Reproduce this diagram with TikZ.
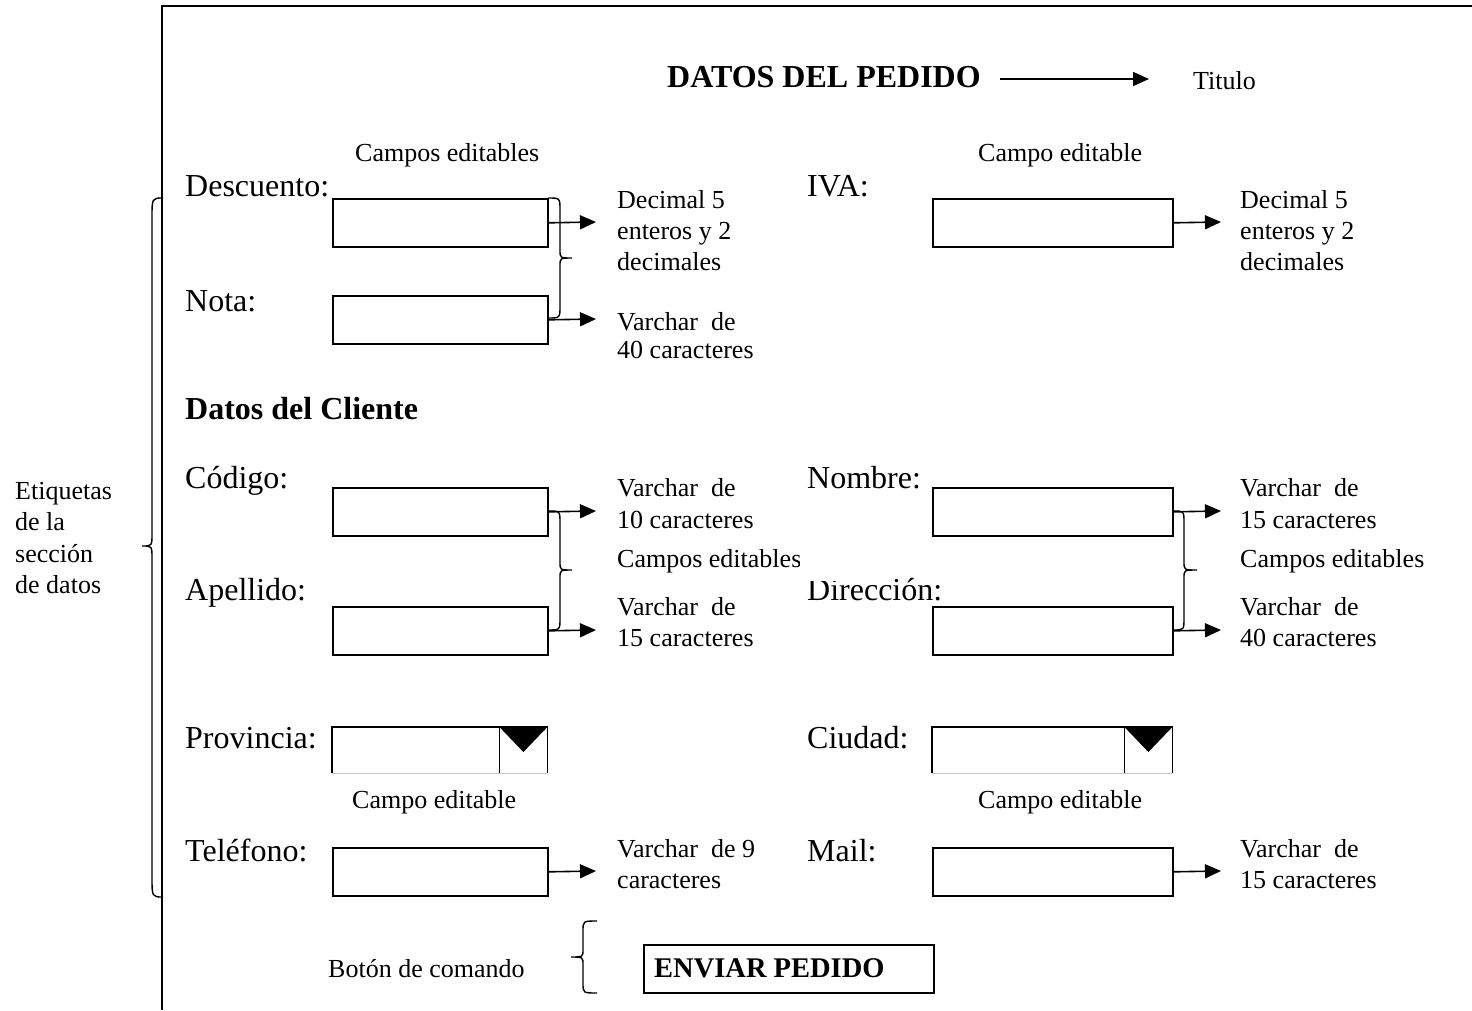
\documentclass[tikz,border=0pt]{standalone}
\usepackage{fontspec}
\setmainfont{Liberation Serif}
\usetikzlibrary{arrows.meta}
\newcommand{\mybrace}[8]{%
  \draw[bracestyle] (#1,#4) .. controls (#2,#4) .. (#2,{#4+#7}) -- (#2,{#5-#8}) .. controls (#2,#5) .. (#3,#5) .. controls (#2,#5) .. (#2,{#5+#8}) -- (#2,{#6-#7}) .. controls (#2,#6) .. (#1,#6);}
\tikzset{
 big/.style={font=\fontsize{32}{38}\selectfont,anchor=base west,inner sep=0pt},
 bigb/.style={font=\fontsize{32}{38}\selectfont\bfseries,anchor=base west,inner sep=0pt},
 small/.style={font=\fontsize{26}{31}\selectfont,anchor=base west,inner sep=0pt},
 lbox/.style={draw,line width=1.6pt,minimum width=215pt,minimum height=48pt,inner sep=0pt,anchor=north west},
 rbox/.style={lbox,minimum width=240pt},
 arr/.style={line width=1.6pt,-{Triangle[length=16pt,width=14pt]}},
 bracestyle/.style={line width=1.4pt},
 ddbox/.style={minimum height=46pt,inner sep=0pt,anchor=north west},
}
\begin{document}
\begin{tikzpicture}[x=1pt,y=-1pt]
\useasboundingbox (0,0) rectangle (1472,1010);
% frame
\draw[line width=2pt] (162,1010) -- (162,6) -- (1472,6);

% title
\node[bigb] (title) at (667,87) {DATOS DEL PEDIDO};
\node[small] (titulo) at (1193,89) {Titulo};
\coordinate (tA) at (1000,79);
\coordinate (tB) at (1149,79);
\draw[arr] (tA) -- (tB);

% row 1
\node[small] (ce1) at (355,161) {Campos editables};
\node[small] (ce2) at (978,161) {Campo editable};
\node[big] (ldesc) at (185,196) {Descuento:};
\node[big] (liva) at (807,196) {IVA:};
\node[lbox] (bdesc) at (332,198) {};
\node[rbox] (biva) at (932,198) {};
\coordinate (adesc) at (596,222);
\coordinate (aiva) at (1221,222);
\draw[arr] (bdesc.east) -- (adesc);
\draw[arr] (biva.east) -- (aiva);
\node[small] (d1a) at (617,208) {Decimal 5};
\node[small] (d1b) at (617,239) {enteros y 2};
\node[small] (d1c) at (617,270) {decimales};
\node[small] (d2a) at (1240,208) {Decimal 5};
\node[small] (d2b) at (1240,239) {enteros y 2};
\node[small] (d2c) at (1240,270) {decimales};

% Nota
\node[big] (lnota) at (185,311) {Nota:};
\node[lbox] (bnota) at (332,295) {};
\coordinate (anota) at (596,319);
\draw[arr] (bnota.east) -- (anota);
\node[small] (n1) at (617,330) {Varchar\ \ de};
\node[small] (n2) at (617,358) {40 caracteres};
\mybrace{548}{560}{572}{198}{258}{318}{12}{8}

% Datos del Cliente
\node[bigb] (dcli) at (185,419) {Datos del Cliente};

% Codigo / Nombre
\node[big] (lcod) at (185,488) {Código:};
\node[big] (lnom) at (807,488) {Nombre:};
\node[lbox] (bcod) at (332,487) {};
\node[rbox] (bnom) at (932,487) {};
\coordinate (acod) at (596,511);
\coordinate (anom) at (1221,511);
\draw[arr] (bcod.east) -- (acod);
\draw[arr] (bnom.east) -- (anom);
\node[small] (c1) at (617,496) {Varchar\ \ de};
\node[small] (c2) at (617,528) {10 caracteres};
\node[small] (c3) at (617,567) {Campos editables};
\node[small] (m1) at (1240,496) {Varchar\ \ de};
\node[small] (m2) at (1240,528) {15 caracteres};
\node[small] (m3) at (1240,567) {Campos editables};

% Apellido / Direccion
\node[big] (lape) at (185,600) {Apellido:};
\node[big] (ldir) at (807,600) {Dirección:};
\fill[white] (800,555) rectangle (848,581);
\node[lbox] (bape) at (332,606) {};
\node[rbox] (bdir) at (932,606) {};
\coordinate (aape) at (596,630);
\coordinate (adir) at (1221,630);
\draw[arr] (bape.east) -- (aape);
\draw[arr] (bdir.east) -- (adir);
\node[small] (p1) at (617,615) {Varchar\ \ de};
\node[small] (p2) at (617,646) {15 caracteres};
\node[small] (q1) at (1240,615) {Varchar\ \ de};
\node[small] (q2) at (1240,646) {40 caracteres};
\mybrace{548}{560}{572}{511}{570}{630}{12}{8}
\mybrace{1173}{1184}{1197}{511}{570}{630}{12}{8}

% Provincia / Ciudad dropdowns
\node[big] (lprov) at (185,748) {Provincia:};
\node[big] (lciu) at (807,748) {Ciudad:};
\node[ddbox,minimum width=215pt] (prov) at (332,727) {};
\node[ddbox,minimum width=240pt] (ciu) at (932,727) {};
\foreach \n in {prov,ciu}{
  \draw[black!22,line width=1pt] (\n.south west) -- (\n.south east);
  \draw[line width=1.6pt] (\n.south west) -- (\n.north west) -- (\n.north east) -- (\n.south east);
  \draw[line width=1.6pt] ([xshift=-48pt]\n.north east) -- ([xshift=-48pt]\n.south east);
  \fill ([xshift=-48pt]\n.north east) -- (\n.north east) -- ([xshift=-24pt,yshift=-25pt]\n.north east) -- cycle;
}
\node[small] (ce3) at (352,808) {Campo editable};
\node[small] (ce4) at (978,808) {Campo editable};

% Telefono / Mail
\node[big] (ltel) at (185,861) {Teléfono:};
\node[big] (lmail) at (807,861) {Mail:};
\node[lbox] (btel) at (332,847) {};
\node[rbox] (bmail) at (932,847) {};
\coordinate (atel) at (596,871);
\coordinate (amail) at (1221,871);
\draw[arr] (btel.east) -- (atel);
\draw[arr] (bmail.east) -- (amail);
\node[small] (t1) at (617,857) {Varchar\ \ de 9};
\node[small] (t2) at (617,888) {caracteres};
\node[small] (e1) at (1240,857) {Varchar\ \ de};
\node[small] (e2) at (1240,888) {15 caracteres};

% left brace and label
\mybrace{163}{152}{142}{198}{546}{897}{20}{12}
\node[small] (et1) at (15,499) {Etiquetas};
\node[small] (et2) at (15,530) {de la};
\node[small] (et3) at (15,562) {sección};
\node[small] (et4) at (15,593) {de datos};

% command button
\node[small] (boton) at (328,977) {Botón de comando};
\mybrace{597}{583}{571}{921}{957}{993}{10}{8}
\node[draw,line width=1.6pt,minimum width=290pt,minimum height=48pt,inner sep=0pt,anchor=north west] (env) at (643,944) {};
\node[font=\fontsize{28.5}{32}\selectfont\bfseries,anchor=base west,inner sep=0pt] (envt) at (654,977) {ENVIAR PEDIDO};
\end{tikzpicture}
\end{document}
